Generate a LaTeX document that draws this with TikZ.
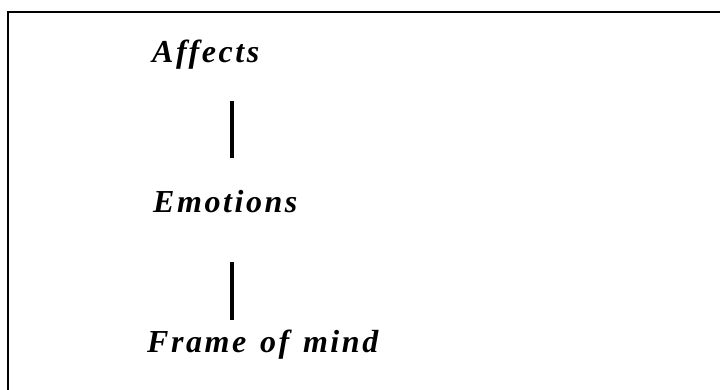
\documentclass[tikz,border=0pt]{standalone}
\usepackage{fontspec}
\setmainfont{Liberation Serif}
\newfontfamily\lblfont{Liberation Serif}[LetterSpace=8, WordSpace=1.3]
\usepackage{tikz}
\usetikzlibrary{positioning}

\begin{document}
\begin{tikzpicture}[x=1pt, y=1pt,
    term/.style={anchor=base west, inner sep=0pt, text height=21pt, text depth=6pt,
      font=\lblfont\bfseries\itshape\fontsize{32}{38}\selectfont},
    link/.style={line width=3.5pt},
    frame/.style={line width=2pt}]
    \clip (0,0) rectangle (720,-390);
    \draw[frame] (8,-12) rectangle (740,-410);
    \coordinate (spine) at (232,0);
    \node[term] (aff) at (152,-63) {Affects};
    \node[term] (emo) at (153,-213) {Emotions};
    \node[term] (frm) at (147,-352) {Frame of mind};
    \foreach \a/\b/\s/\e in {aff/emo/32/34, emo/frm/43/11}
      \draw[link, shorten <=\s pt, shorten >=\e pt] (\a.south -| spine) -- (\b.north -| spine);
\end{tikzpicture}
\end{document}
